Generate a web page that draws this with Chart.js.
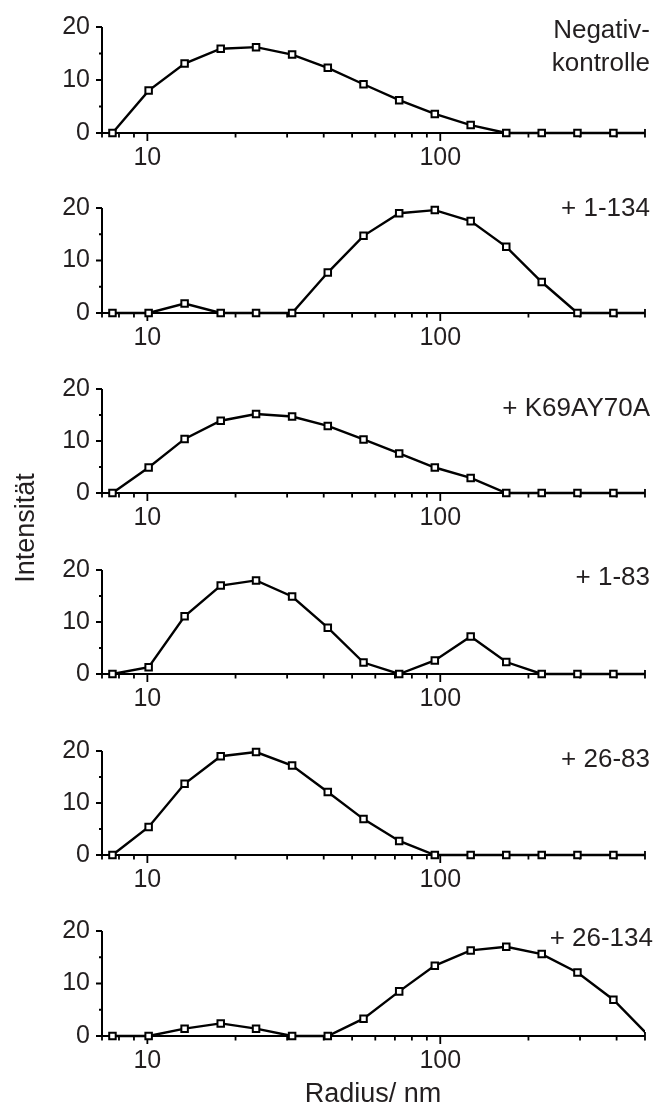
<!DOCTYPE html>
<html>
<head>
<meta charset="utf-8">
<script src="https://cdn.jsdelivr.net/npm/chart.js@4/dist/chart.umd.min.js"></script>
<style>
  body { margin: 0; background: #fff; }
  #wrap { position: relative; width: 658px; height: 1111px; overflow: hidden; background: #fff;
          font-family: 'Liberation Sans', Arial, sans-serif; color: #231f20; }
  canvas { position: absolute; left: 0; }
  .lbl { position: absolute; right: 8px; font-size: 26px; line-height: 33px; text-align: right; white-space: nowrap; }
  .title { position: absolute; font-size: 27px; line-height: 30px; text-align: center; width: 220px; white-space: nowrap; }
</style>
</head>
<body>
<div id="wrap">
  <canvas id="p0" width="658" height="180" style="top:0px"></canvas>
  <canvas id="p1" width="658" height="180" style="top:181px"></canvas>
  <canvas id="p2" width="658" height="180" style="top:362px"></canvas>
  <canvas id="p3" width="658" height="180" style="top:543px"></canvas>
  <canvas id="p4" width="658" height="180" style="top:724px"></canvas>
  <canvas id="p5" width="658" height="180" style="top:904px"></canvas>

  <div class="lbl" style="top:13px">Negativ-<br>kontrolle</div>
  <div class="lbl" style="top:191px">+ 1-134</div>
  <div class="lbl" style="top:391px">+ K69AY70A</div>
  <div class="lbl" style="top:560px">+ 1-83</div>
  <div class="lbl" style="top:742px">+ 26-83</div>
  <div class="lbl" style="top:921px; right:5px">+ 26-134</div>

  <div class="title" style="left:-85px; top:513px; transform: rotate(-90deg);">Intensität</div>
  <div class="title" style="left:263px; top:1078px;">Radius/ nm</div>
</div>
<script>
// radius / nm of each measuring point
const radius = [7.6, 10.1, 13.4, 17.8, 23.5, 31.2, 41.3, 54.7, 72.4, 95.8, 127, 168, 222, 294, 390, 516];

const negativkontrolle = [0, 8.0, 13.1, 15.9, 16.2, 14.8, 12.3, 9.2, 6.2, 3.6, 1.5, 0, 0, 0, 0, 0];
const plus1_134 =        [0, 0, 1.8, 0, 0, 0, 7.7, 14.7, 19.0, 19.6, 17.5, 12.6, 5.9, 0, 0, 0];
const plusK69AY70A =     [0, 4.9, 10.4, 13.9, 15.2, 14.7, 12.9, 10.3, 7.6, 4.9, 2.9, 0, 0, 0, 0, 0];
const plus1_83 =         [0, 1.3, 11.1, 17.0, 18.0, 14.9, 8.9, 2.2, 0, 2.6, 7.2, 2.3, 0, 0, 0, 0];
const plus26_83 =        [0, 5.4, 13.7, 19.0, 19.8, 17.2, 12.1, 6.9, 2.7, 0, 0, 0, 0, 0, 0, 0];
const plus26_134 =       [0, 0, 1.4, 2.4, 1.4, 0, 0, 3.3, 8.5, 13.4, 16.3, 17.0, 15.6, 12.1, 6.9, 0];

const xTicks = [7, 8, 9, 10, 20, 30, 40, 50, 60, 70, 80, 90, 100, 200, 300, 400, 500];
const xLabelled = [10, 100];
const yTicks = [0, 5, 10, 15, 20];

const series = [negativkontrolle, plus1_134, plusK69AY70A, plus1_83, plus26_83, plus26_134];
const plotHeights = [113, 112, 111, 111, 111, 112];

const FONT = "'Liberation Sans', Arial, sans-serif";
const INK = '#231f20';

const axisPlugin = {
    id: 'axes',
    beforeDatasetsDraw(chart) {
        const { ctx, chartArea: a, scales: { x, y } } = chart;
        ctx.save();
        ctx.strokeStyle = '#000';
        ctx.lineWidth = 2;
        ctx.beginPath();
        ctx.moveTo(a.left, a.top);
        ctx.lineTo(a.left, a.bottom + 1);
        ctx.moveTo(a.left - 6, a.bottom);
        ctx.lineTo(a.right, a.bottom);
        yTicks.forEach(v => {
            const py = y.getPixelForValue(v);
            const len = v % 10 === 0 ? 6 : 3;
            ctx.moveTo(a.left - len, py);
            ctx.lineTo(a.left, py);
        });
        ctx.stroke();
        ctx.lineWidth = 1.8;
        ctx.beginPath();
        xTicks.forEach((v, i) => {
            const px = x.getPixelForValue(v);
            const len = xLabelled.includes(v) ? 8 : 4.5;
            const up = i === xTicks.length - 1 ? 4 : 0;
            ctx.moveTo(px, a.bottom - up);
            ctx.lineTo(px, a.bottom + len);
        });
        ctx.stroke();
        ctx.restore();
    }
};

function makePanel(i) {
    const canvas = document.getElementById('p' + i);
    const h = plotHeights[i];
    new Chart(canvas, {
        type: 'line',
        data: {
            datasets: [{
                data: radius.map((r, k) => ({ x: r, y: series[i][k] })),
                borderColor: '#000',
                borderWidth: 2.4,
                tension: 0,
                pointStyle: 'rect',
                pointRadius: 4.6,
                pointBorderWidth: 2,
                pointBorderColor: '#000',
                pointBackgroundColor: '#fff',
                clip: { left: 8, top: 8, right: 0, bottom: 8 }
            }]
        },
        options: {
            responsive: false,
            animation: false,
            devicePixelRatio: 1,
            events: [],
            layout: { padding: { top: 20, right: 13, left: 0, bottom: 0 } },
            plugins: { legend: { display: false }, tooltip: { enabled: false } },
            scales: {
                x: {
                    type: 'logarithmic',
                    min: 7,
                    max: 500,
                    border: { display: false },
                    grid: { display: false, drawTicks: false },
                    afterBuildTicks: s => { s.ticks = xTicks.map(v => ({ value: v })); },
                    afterFit: s => { s.height = 180 - 20 - h; },
                    ticks: {
                        autoSkip: false,
                        maxRotation: 0,
                        padding: 10,
                        color: INK,
                        font: { family: FONT, size: 25 },
                        callback: v => xLabelled.includes(v) ? String(v) : ''
                    }
                },
                y: {
                    min: 0,
                    max: 20,
                    border: { display: false },
                    grid: { display: false, drawTicks: false },
                    afterBuildTicks: s => { s.ticks = yTicks.map(v => ({ value: v })); },
                    afterFit: s => { s.width = 102; },
                    ticks: {
                        padding: 12,
                        color: INK,
                        font: { family: FONT, size: 25 },
                        callback: v => v % 10 === 0 ? String(v) : ''
                    }
                }
            }
        },
        plugins: [axisPlugin]
    });
}

document.addEventListener('DOMContentLoaded', () => {
    series.forEach((s, i) => makePanel(i));
});
</script>
</body>
</html>
